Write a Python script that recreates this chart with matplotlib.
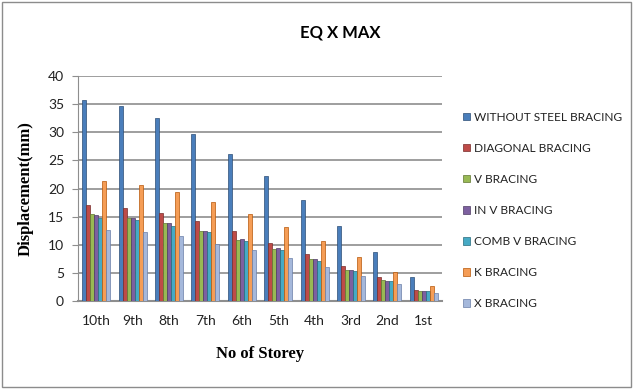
import matplotlib.pyplot as plt
import numpy as np
from matplotlib.patches import Rectangle

storeys = ["10th", "9th", "8th", "7th", "6th", "5th", "4th", "3rd", "2nd", "1st"]
series_names = ["WITHOUT STEEL BRACING", "DIAGONAL BRACING", "V BRACING",
                "IN V BRACING", "COMB V BRACING", "K BRACING", "X BRACING"]
without_steel = [35.7, 34.6, 32.6, 29.7, 26.2, 22.3, 18.0, 13.3, 8.8, 4.3]
diagonal      = [17.1, 16.6, 15.6, 14.2, 12.4, 10.4, 8.3, 6.3, 4.2, 2.0]
v_bracing     = [15.4, 14.8, 13.8, 12.4, 10.9, 9.2, 7.4, 5.5, 3.7, 1.8]
in_v          = [15.3, 14.7, 13.8, 12.5, 11.0, 9.4, 7.4, 5.5, 3.6, 1.8]
comb_v        = [14.8, 14.4, 13.4, 12.2, 10.7, 9.1, 7.2, 5.3, 3.6, 1.8]
k_bracing     = [21.3, 20.6, 19.4, 17.6, 15.5, 13.1, 10.6, 7.9, 5.2, 2.6]
x_bracing     = [12.6, 12.2, 11.5, 10.2, 9.0, 7.6, 6.1, 4.5, 3.0, 1.4]
y_ticks = [0, 5, 10, 15, 20, 25, 30, 35, 40]

series = [without_steel, diagonal, v_bracing, in_v, comb_v, k_bracing, x_bracing]
colors = ["#4A7EBB", "#BE4B48", "#98B954", "#7D60A0", "#46AAC5", "#F59D56", "#A5B8DB"]
edges = ["#2C4D75", "#772C2A", "#5F7530", "#4D3B62", "#276A7C", "#B65708", "#6A7FA8"]

sans = "Lato"
fig = plt.figure(figsize=(6.34, 3.89), dpi=100)
fig.patches.append(Rectangle((0.003, 0.005), 0.992, 0.99, transform=fig.transFigure,
                             fill=False, edgecolor="#8C8C8C", linewidth=1.0))
ax = fig.add_axes([78 / 634, 1 - 301 / 389, (442 - 78) / 634, (301 - 76) / 389])

x = np.arange(len(storeys))
bw = 0.11
for i, (vals, c, e) in enumerate(zip(series, colors, edges)):
    ax.bar(x + (i - 3) * bw, vals, width=bw, color=c, edgecolor=e,
           linewidth=0.5, label=series_names[i], zorder=3)

ax.set_xlim(-0.5, len(storeys) - 0.5)
ax.set_ylim(0, 40)
ax.set_yticks(y_ticks)
ax.set_xticks(x)
ax.set_xticklabels(storeys)
ax.yaxis.grid(True, color="#8E8E8E", linewidth=1.2, zorder=0)
for s in ["top", "right"]:
    ax.spines[s].set_visible(False)
ax.spines["left"].set_color("#8E8E8E")
ax.spines["bottom"].set_color("#8E8E8E")
ax.spines["bottom"].set_linewidth(1.5)
ax.tick_params(axis="y", length=4, color="#8E8E8E", labelsize=10, pad=6)
ax.tick_params(axis="x", length=0, labelsize=10, pad=10)
for lbl in ax.get_xticklabels() + ax.get_yticklabels():
    lbl.set_fontfamily(sans)
    lbl.set_color("#222222")

ax.set_ylabel("Displacement(mm)", fontfamily="Liberation Serif", fontweight="bold",
              fontsize=12, labelpad=10)
ax.set_xlabel("No of Storey", fontfamily="Liberation Serif", fontweight="bold",
              fontsize=12, labelpad=14)
fig.text(0.536, 1 - 33 / 389, "EQ X MAX", ha="center", va="center",
         fontfamily=sans, fontweight="bold", fontsize=12)

leg = fig.legend(loc="upper left", bbox_to_anchor=(452 / 634, 1 - 101 / 389),
                 frameon=False, prop={"family": sans, "size": 8.6},
                 handlelength=0.6, handleheight=0.6, handletextpad=0.35,
                 labelspacing=1.68)
for t in leg.get_texts():
    t.set_color("#222222")

fig.savefig("out.png", dpi=100)
